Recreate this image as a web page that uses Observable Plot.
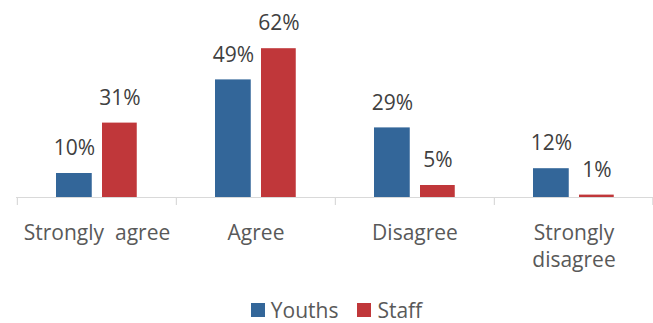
<!DOCTYPE html>
<html>
<head>
<meta charset="utf-8">
<script src="https://cdn.jsdelivr.net/npm/d3@7"></script>
<script src="https://cdn.jsdelivr.net/npm/@observablehq/plot@0.6"></script>
<style>
  body { margin: 0; background: #fff; font-family: "Open Sans", sans-serif; }
  #chart svg { display: block; white-space: pre; }
  .legend { display: flex; justify-content: center; align-items: center; height: 24px; line-height: 24px; margin-top: 8px; padding-left: 20px; font-size: 21px; color: #595959; }
  .legend .item { display: flex; align-items: center; }
  .legend .sw { width: 14px; height: 14px; margin-right: 6px; }
  .legend .item + .item { margin-left: 19px; }
</style>
</head>
<body>
<div id="chart"></div>
<script>
const categories = ["Strongly  agree", "Agree", "Disagree", "Strongly\ndisagree"];
const series = ["Youths", "Staff"];
const youths = [10, 49, 29, 12];
const staff = [31, 62, 5, 1];
const colors = ["#336699", "#C0373A"];

const youthData = categories.map((c, i) => ({category: c, value: youths[i]}));
const staffData = categories.map((c, i) => ({category: c, value: staff[i]}));

const W = 653, H = 290;
const mL = 16, mR = 0;
const band = (W - mL - mR) / categories.length;
const half = band / 2;

const plot = Plot.plot({
  width: W,
  height: H,
  marginLeft: mL,
  marginRight: mR,
  marginTop: 0,
  marginBottom: 93,
  style: {fontFamily: "Open Sans, sans-serif", background: "#fff"},
  x: {domain: categories, padding: 0, axis: null},
  y: {domain: [0, 197 / 2.4], axis: null},
  marks: [
    Plot.ruleY([0], {stroke: "#d9d9d9", strokeWidth: 1.2}),
    Plot.ruleX(categories, {x: d => d, y1: 0, y2: 0, insetBottom: -8, dx: -half, stroke: "#d9d9d9", strokeWidth: 1.2}),
    Plot.ruleX(categories.slice(-1), {x: d => d, y1: 0, y2: 0, insetBottom: -8, dx: half - 0.8, stroke: "#d9d9d9", strokeWidth: 1.2}),
    Plot.barY(youthData, {x: "category", y: "value", fill: colors[0], insetLeft: 39, insetRight: band - 75}),
    Plot.barY(staffData, {x: "category", y: "value", fill: colors[1], insetLeft: 85, insetRight: band - 120}),
    Plot.text(youthData, {x: "category", y: "value", text: d => d.value + "%", dx: -22.6, dy: -25, lineAnchor: "middle", fontSize: 21, fill: "#404040"}),
    Plot.text(staffData, {x: "category", y: "value", text: d => d.value + "%", dx: 22.9, dy: -25, lineAnchor: "middle", fontSize: 21, fill: "#404040"}),
    Plot.text(categories, {x: d => d, y: 0, text: d => d, dy: 24, lineAnchor: "top", lineHeight: 1.27, fontSize: 21, fill: "#595959"})
  ]
});

const chart = document.getElementById("chart");
chart.appendChild(plot);

const legend = document.createElement("div");
legend.className = "legend";
series.forEach((s, i) => {
  const item = document.createElement("div");
  item.className = "item";
  const sw = document.createElement("span");
  sw.className = "sw";
  sw.style.background = colors[i];
  const label = document.createElement("span");
  label.textContent = s;
  item.appendChild(sw);
  item.appendChild(label);
  legend.appendChild(item);
});
chart.appendChild(legend);
</script>
</body>
</html>
